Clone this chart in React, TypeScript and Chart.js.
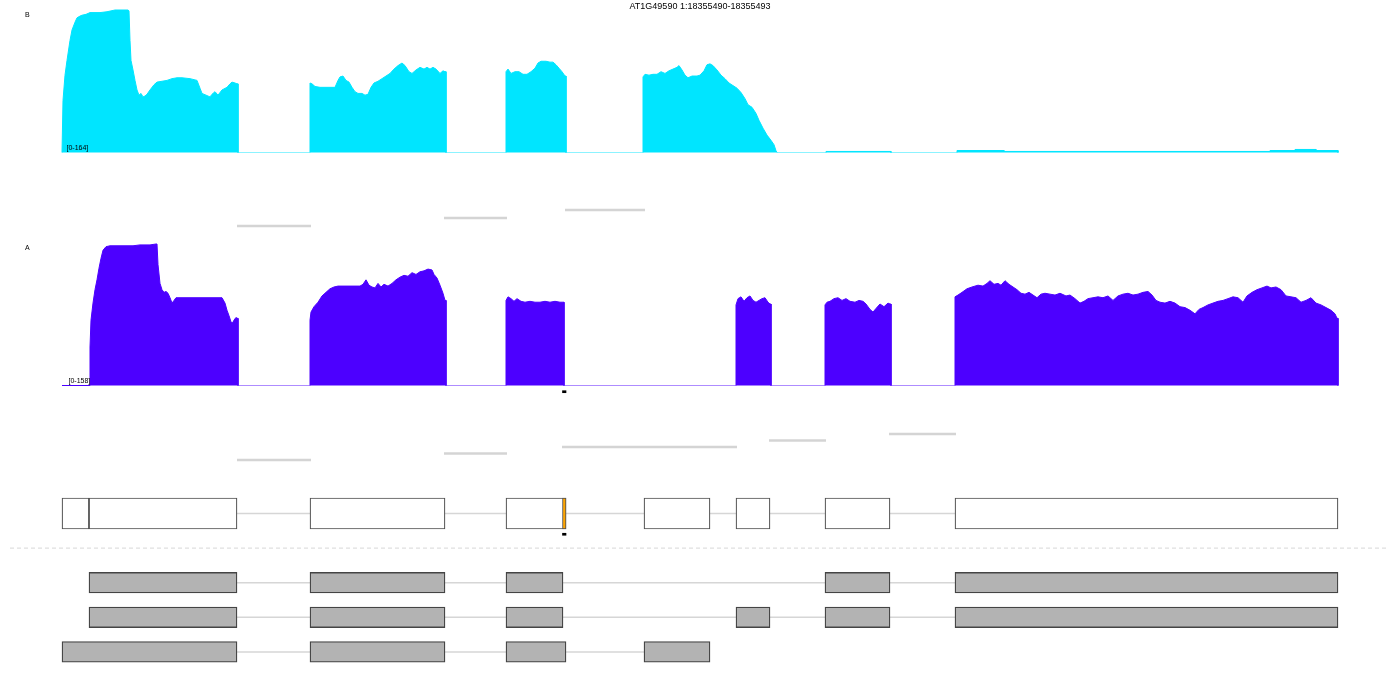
import React, { useEffect, useRef } from "react";
import { Chart, registerables } from "chart.js";

Chart.register(...registerables);

// ---------------- DATA ----------------
const GENE = "AT1G49590";
const CHROM = "1";
const GENE_START = 18354989; // genomic coordinate of relative position 0
const REGION = [18355490, 18355493];

const trackNames = ["B", "A"];
const trackMax = [164, 158];

// coverage: [relative position (bp), read depth]
const coverageB: number[][] = [
  [0, 0], [1, 60], [3, 89], [5, 106], [8, 129], [10, 141], [13, 150], [15, 155], [18, 157], [20, 158],
  [24, 159], [28, 161], [38, 161], [45, 162], [53, 164], [66, 164], [67, 163], [68, 129], [69, 106],
  [71, 95], [73, 83], [75, 72], [77, 66], [79, 68], [81, 64], [83, 65], [85, 67], [88, 72], [92, 78],
  [95, 81], [100, 82], [105, 83], [110, 85], [115, 86], [120, 86], [128, 85], [135, 83], [138, 74],
  [140, 68], [144, 66], [148, 64], [150, 67], [153, 70], [156, 66], [160, 72], [165, 75], [168, 79],
  [170, 81], [173, 80], [175, 79], [176, 79], [176, 0],
  [248, 0], [248, 80], [250, 79], [253, 76], [258, 75], [273, 75], [276, 83], [278, 87], [281, 88],
  [284, 83], [287, 81], [290, 75], [293, 70], [296, 68], [300, 68], [303, 66], [306, 67], [309, 75],
  [312, 80], [316, 82], [320, 85], [324, 88], [328, 91], [332, 96], [336, 100], [340, 103], [343, 100],
  [347, 93], [350, 91], [354, 95], [358, 98], [362, 96], [365, 98], [368, 96], [371, 98], [374, 96],
  [378, 91], [381, 94], [383, 93], [384, 93], [384, 0],
  [444, 0], [444, 93], [446, 96], [449, 91], [453, 93], [457, 93], [461, 90], [465, 90], [469, 93],
  [473, 97], [476, 103], [479, 105], [484, 105], [488, 104], [491, 104], [494, 101], [497, 97],
  [500, 93], [503, 88], [504, 88], [504, 0],
  [581, 0], [581, 87], [583, 90], [587, 89], [591, 90], [595, 90], [599, 93], [603, 91], [607, 94],
  [611, 96], [615, 98], [617, 100], [620, 95], [623, 89], [626, 86], [630, 88], [635, 88], [638, 89],
  [642, 94], [645, 101], [648, 102], [651, 100], [655, 95], [659, 89], [663, 85], [667, 80], [671, 77],
  [675, 74], [679, 69], [683, 62], [686, 55], [690, 52], [694, 45], [697, 37], [701, 28], [705, 20],
  [709, 14], [712, 9], [714, 2], [715, 0],
  [764, 0], [764, 1.2], [829, 1.2], [829, 0], [895, 0], [895, 2.3], [942, 2.3], [942, 1.2],
  [1208, 1.2], [1208, 2.3], [1233, 2.3], [1233, 3.5], [1254, 3.5], [1254, 2.3], [1276, 2.3], [1276, 0],
];

const coverageA: number[][] = [
  [0, 0], [27, 0], [28, 43], [29, 73], [31, 92], [33, 107], [35, 118], [37, 131], [39, 142], [41, 151],
  [44, 155], [48, 156], [58, 156], [71, 156], [78, 157], [88, 157], [94, 158], [95, 158], [96, 135],
  [98, 114], [100, 107], [102, 104], [104, 105], [106, 103], [108, 98], [110, 92], [112, 95], [114, 98],
  [138, 98], [160, 98], [163, 92], [165, 84], [167, 78], [169, 71], [170, 68], [172, 73], [174, 76],
  [175, 75], [176, 75], [176, 0],
  [248, 0], [248, 73], [249, 82], [252, 88], [256, 93], [260, 100], [264, 104], [268, 108], [272, 110],
  [276, 111], [298, 111], [301, 113], [304, 118], [307, 112], [310, 110], [313, 109], [316, 114],
  [319, 110], [322, 113], [326, 111], [330, 114], [334, 118], [338, 121], [342, 123], [346, 122],
  [350, 126], [354, 124], [358, 127], [362, 128], [366, 130], [370, 129], [372, 124], [375, 120],
  [378, 112], [381, 103], [383, 95], [384, 95], [384, 0],
  [444, 0], [444, 95], [446, 99], [449, 97], [452, 94], [455, 97], [459, 94], [463, 93], [468, 94],
  [473, 93], [478, 93], [483, 94], [488, 93], [493, 94], [498, 93], [501, 93], [502, 93], [502, 0],
  [674, 0], [674, 90], [676, 97], [679, 99], [682, 94], [685, 98], [688, 100], [691, 95], [694, 93],
  [697, 95], [700, 97], [703, 98], [706, 93], [708, 91], [709, 91], [709, 0],
  [763, 0], [763, 90], [765, 93], [768, 94], [772, 97], [776, 98], [780, 95], [784, 97], [788, 94],
  [793, 93], [797, 95], [801, 94], [804, 91], [808, 85], [811, 82], [814, 86], [818, 91], [822, 88],
  [826, 92], [828, 91], [829, 91], [829, 0],
  [893, 0], [893, 99], [896, 101], [900, 104], [905, 108], [910, 110], [916, 112], [921, 111],
  [925, 114], [928, 117], [932, 113], [936, 114], [939, 112], [943, 117], [947, 113], [951, 110],
  [955, 107], [959, 103], [963, 102], [967, 104], [971, 101], [975, 98], [979, 102], [983, 103],
  [988, 102], [993, 101], [998, 103], [1004, 100], [1008, 101], [1013, 97], [1018, 92], [1022, 94],
  [1026, 97], [1031, 98], [1036, 99], [1041, 98], [1046, 100], [1051, 95], [1056, 100], [1061, 102],
  [1066, 103], [1071, 101], [1076, 102], [1081, 104], [1086, 105], [1090, 101], [1094, 95], [1098, 93],
  [1103, 92], [1108, 94], [1113, 92], [1118, 88], [1123, 87], [1128, 84], [1133, 80], [1137, 85],
  [1141, 87], [1146, 90], [1151, 92], [1156, 94], [1161, 95], [1166, 97], [1171, 99], [1176, 98],
  [1181, 93], [1185, 100], [1190, 104], [1195, 107], [1200, 109], [1205, 111], [1209, 109], [1214, 110],
  [1219, 107], [1224, 100], [1229, 99], [1234, 98], [1239, 93], [1244, 95], [1249, 98], [1254, 92],
  [1259, 90], [1264, 87], [1269, 84], [1273, 80], [1275, 75], [1276, 75], [1276, 0],
];

// splice junctions (relative bp) and their stacking level in the sashimi lane
const junctionStartsB = [175, 382, 503];
const junctionEndsB = [249, 445, 583];
const junctionLevelsB = [1, 2, 3];

const junctionStartsA = [175, 382, 500, 707, 827];
const junctionEndsA = [249, 445, 675, 764, 894];
const junctionLevelsA = [1, 2, 3, 4, 5];

// gene model and transcripts: exon [start, end] in relative bp
const geneExons = [[0, 27], [27, 175], [248, 383], [444, 504], [582, 648], [674, 708], [763, 828], [893, 1276]];
const transcript1 = [[27, 175], [248, 383], [444, 501], [763, 828], [893, 1276]];
const transcript2 = [[27, 175], [248, 383], [444, 501], [674, 708], [763, 828], [893, 1276]];
const transcript3 = [[0, 175], [248, 383], [444, 504], [582, 648]];

// ---------------- LAYOUT / STYLE ----------------
const W = 1400;
const H = 700;
const X_MIN = -62;
const X_MAX = 1338;
const GENE_ROW = 0;
const SEP_ROW = 1;
const TRANSCRIPT_ROWS = [2, 3, 4];
const MARK_ROWS = [-3.52, 0.6];
const SEP_RANGE = [-52, 1326];

const CYAN = "rgb(0,229,255)";
const CYAN_LIGHT = "rgba(0,229,255,0.45)";
const PURPLE = "rgb(76,0,255)";
const PURPLE_LIGHT = "rgba(76,0,255,0.45)";
const JUNC = "rgb(212,212,212)";
const FONT = '"Liberation Sans", Arial, Helvetica, sans-serif';

// axis covering the full canvas height so that value 0 lands at pixel p0 with k px per unit
function axisRange(p0: number, k: number) {
  return { min: (p0 - H) / k, max: p0 / k };
}

const labelsPlugin = {
  id: "trackLabels",
  afterDatasetsDraw(chart: any) {
    const ctx = chart.ctx;
    ctx.save();
    ctx.fillStyle = "#000";
    ctx.textBaseline = "alphabetic";
    ctx.font = `9px ${FONT}`;
    ctx.textAlign = "center";
    ctx.fillText(`${GENE} ${CHROM}:${REGION[0]}-${REGION[1]}`, chart.width / 2, 8.5);
    ctx.font = `7px ${FONT}`;
    ctx.textAlign = "left";
    ctx.fillText(trackNames[0], 25, 17);
    ctx.fillText(trackNames[1], 25, 250);
    ctx.fillText(`[0-${trackMax[0]}]`, 66.5, 150);
    ctx.fillText(`[0-${trackMax[1]}]`, 68.5, 383);
    ctx.restore();
  },
};

function coverageDataset(points: number[][], axis: string, color: string, light: string) {
  return {
    type: "line",
    data: points.map(([x, y]) => ({ x, y })),
    xAxisID: "x",
    yAxisID: axis,
    borderColor: color,
    backgroundColor: color,
    borderWidth: 1,
    pointRadius: 0,
    tension: 0,
    fill: "origin",
    order: 5,
    segment: {
      borderColor: (c: any) =>
        c.p0.parsed.x > 0 && c.p0.parsed.y <= 0.5 && c.p1.parsed.y <= 0.5 ? light : undefined,
    },
  };
}

function lineDataset(points: { x: number; y: number }[], axis: string, color: string, width: number, order: number, dash?: number[]) {
  return {
    type: "line",
    data: points,
    xAxisID: "x",
    yAxisID: axis,
    borderColor: color,
    backgroundColor: color,
    borderWidth: width,
    borderDash: dash || [],
    pointRadius: 0,
    fill: false,
    tension: 0,
    order,
  };
}

function barDataset(data: any[], fill: string, border: string, width: number, thickness: number, order: number) {
  return {
    type: "bar",
    indexAxis: "y",
    xAxisID: "x",
    yAxisID: "rows",
    stack: "rows",
    data,
    backgroundColor: fill,
    borderColor: border,
    borderWidth: width,
    borderSkipped: false,
    barThickness: thickness,
    order,
  };
}

function intron(exons: number[][], row: number) {
  return lineDataset(
    [
      { x: exons[0][0], y: row },
      { x: exons[exons.length - 1][1], y: row },
    ],
    "rows",
    "rgb(214,214,214)",
    1.5,
    10
  );
}

export default function App() {
  const ref = useRef<HTMLCanvasElement>(null);

  useEffect(() => {
    if (!ref.current) return;
    const regionPos = [REGION[0] - GENE_START, REGION[1] - GENE_START];
    const transcripts = [transcript1, transcript2, transcript3];

    const datasets: any[] = [];
    datasets.push(coverageDataset(coverageB, "yB", CYAN, CYAN_LIGHT));
    datasets.push(coverageDataset(coverageA, "yA", PURPLE, PURPLE_LIGHT));

    junctionStartsB.forEach((s, i) =>
      datasets.push(lineDataset([{ x: s, y: junctionLevelsB[i] }, { x: junctionEndsB[i], y: junctionLevelsB[i] }], "yJB", JUNC, 2.5, 5))
    );
    junctionStartsA.forEach((s, i) =>
      datasets.push(lineDataset([{ x: s, y: junctionLevelsA[i] }, { x: junctionEndsA[i], y: junctionLevelsA[i] }], "yJA", JUNC, 2.5, 5))
    );

    datasets.push(intron(geneExons, GENE_ROW));
    transcripts.forEach((t, i) => datasets.push(intron(t, TRANSCRIPT_ROWS[i])));
    datasets.push(
      lineDataset(
        [
          { x: SEP_RANGE[0], y: SEP_ROW },
          { x: SEP_RANGE[1], y: SEP_ROW },
        ],
        "rows",
        "rgb(215,215,215)",
        1,
        10,
        [4, 3]
      )
    );

    datasets.push(
      barDataset(geneExons.map(([s, e]) => ({ x: [s, e], y: GENE_ROW })), "#ffffff", "#505050", 1.2, 31, 0)
    );
    datasets.push(
      barDataset([{ x: [regionPos[0] - 0.5, regionPos[1]], y: GENE_ROW }], "#FFA500", "#505050", 1, 31, -1)
    );
    const tData: any[] = [];
    transcripts.forEach((t, i) => t.forEach(([s, e]) => tData.push({ x: [s, e], y: TRANSCRIPT_ROWS[i] })));
    datasets.push(barDataset(tData, "#b3b3b3", "#444444", 1.3, 20.5, 0));
    datasets.push(
      barDataset(MARK_ROWS.map((r) => ({ x: [regionPos[0] - 0.5, regionPos[1]], y: r })), "#000000", "#000000", 0, 2, -1)
    );

    const yB = axisRange(152.5, 142.5 / trackMax[0]);
    const yA = axisRange(385.5, 141.5 / trackMax[1]);
    const yJB = axisRange(234, 8);
    const yJA = axisRange(466.5, 6.5);

    const hidden = { display: false, bounds: "data" as const, grid: { display: false } };

    const chart = new Chart(ref.current, {
      type: "line",
      data: { datasets },
      options: {
        responsive: false,
        animation: false,
        devicePixelRatio: 1,
        events: [],
        layout: { padding: 0 },
        plugins: { legend: { display: false }, tooltip: { enabled: false }, title: { display: false } },
        scales: {
          x: { type: "linear", min: X_MIN, max: X_MAX, stacked: false, offset: false, ...hidden },
          yB: { type: "linear", position: "left", min: yB.min, max: yB.max, ...hidden },
          yA: { type: "linear", position: "left", min: yA.min, max: yA.max, ...hidden },
          yJB: { type: "linear", position: "left", min: yJB.min, max: yJB.max, ...hidden },
          yJA: { type: "linear", position: "left", min: yJA.min, max: yJA.max, ...hidden },
          rows: {
            type: "linear",
            position: "left",
            reverse: true,
            offset: false,
            min: -513.5 / 34.6,
            max: (H - 513.5) / 34.6,
            ...hidden,
          },
        },
      } as any,
      plugins: [labelsPlugin],
    } as any);

    return () => chart.destroy();
  }, []);

  return (
    <div style={{ position: "fixed", left: 0, top: 0, width: W, height: H, background: "#fff" }}>
      <canvas ref={ref} width={W} height={H} style={{ display: "block", width: W, height: H }} />
    </div>
  );
}
